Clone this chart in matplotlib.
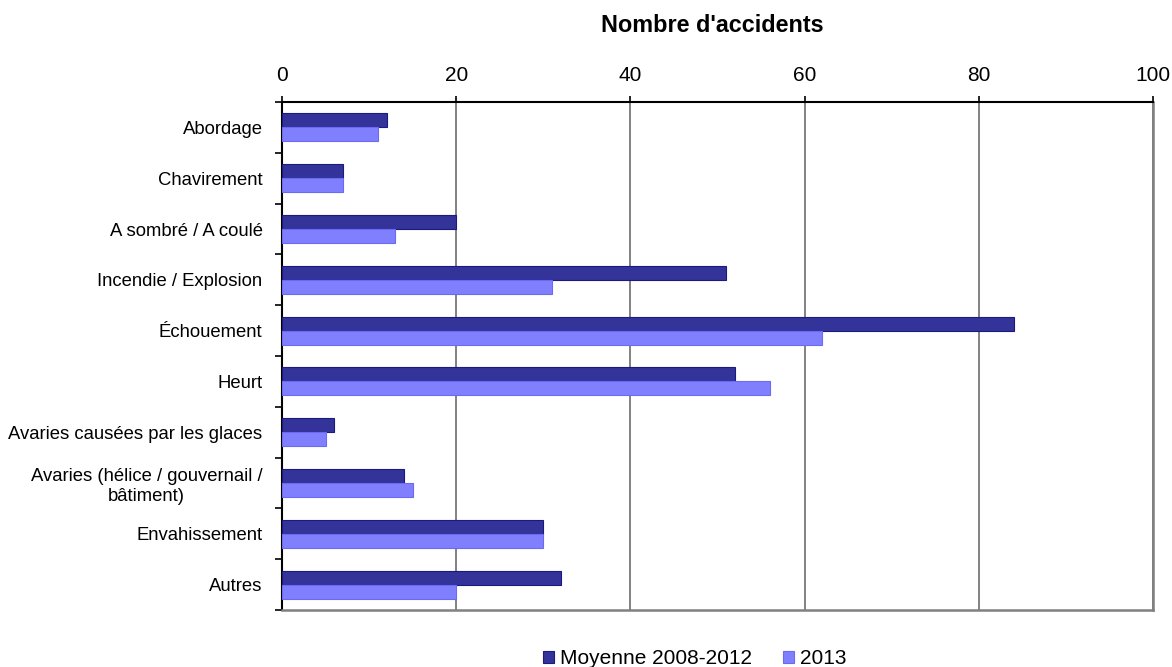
import numpy as np
import matplotlib
matplotlib.use('Agg')
import matplotlib.pyplot as plt
from matplotlib.ticker import FixedLocator

plt.rcParams['font.family'] = ['Liberation Sans', 'DejaVu Sans']

categories = ['Abordage', 'Chavirement', 'A sombré / A coulé', 'Incendie / Explosion',
              'Échouement', 'Heurt', 'Avaries causées par les glaces',
              'Avaries (hélice / gouvernail /\nbâtiment)', 'Envahissement', 'Autres']
moyenne = [12, 7, 20, 51, 84, 52, 6, 14, 30, 32]
annee_2013 = [11, 7, 13, 31, 62, 56, 5, 15, 30, 20]
xticks = [0, 20, 40, 60, 80, 100]

fig = plt.figure(figsize=(11.72, 6.67), dpi=100)
ax = fig.add_axes([282 / 1172, 1 - 610 / 667, 871 / 1172, 508 / 667])

y = np.arange(len(categories))
h = 0.275
ax.barh(y - h / 2, moyenne, height=h, color='#333399', edgecolor='#1a1a80',
        linewidth=0.8, label='Moyenne 2008-2012', zorder=3)
ax.barh(y + h / 2, annee_2013, height=h, color='#8080ff', edgecolor='#6a6af5',
        linewidth=0.8, label='2013', zorder=3)

ax.set_xlim(0, 100)
ax.set_ylim(len(categories) - 0.5, -0.5)
ax.xaxis.tick_top()
ax.set_xticks(xticks)
ax.tick_params(axis='x', labelsize=15, pad=8, length=4, width=1.2, colors='black')
ax.grid(axis='x', color='#777777', linewidth=1.3, zorder=0)

ax.set_yticks(y)
ax.set_yticklabels(categories, fontsize=13.3, multialignment='center')
ax.tick_params(axis='y', which='major', length=0, pad=14)
ax.yaxis.set_minor_locator(FixedLocator(np.arange(-0.5, len(categories) + 0.5, 1)))
ax.tick_params(axis='y', which='minor', length=5, width=1.2)

for side in ['left', 'top']:
    ax.spines[side].set_color('black')
    ax.spines[side].set_linewidth(1.5)
for side in ['right', 'bottom']:
    ax.spines[side].set_color('#808080')
    ax.spines[side].set_linewidth(1.8)

fig.text(712 / 1172, 1 - 25 / 667, "Nombre d'accidents", ha='center', va='center',
         fontsize=16.8, fontweight='bold')

fig.legend(loc='lower center', bbox_to_anchor=(0.593, -0.03), ncol=2, frameon=False,
           fontsize=15, handlelength=0.5, handleheight=0.5, handletextpad=0.3,
           columnspacing=1.5)

fig.savefig('out.png', dpi=100)
